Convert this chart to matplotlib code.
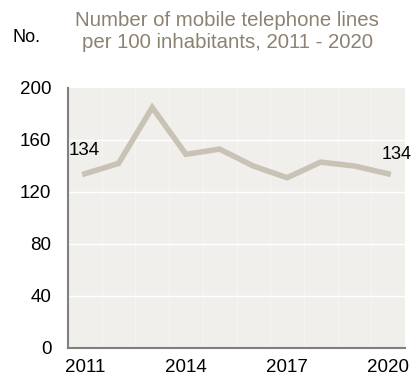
import matplotlib.pyplot as plt
import numpy as np

plt.rcParams['font.family'] = ['Liberation Sans', 'DejaVu Sans']

# データ
years = [2011, 2012, 2013, 2014, 2015, 2016, 2017, 2018, 2019, 2020]
lines_per_100 = [134, 142, 185, 149, 153, 140, 131, 143, 140, 134]
tick_years = [2011, 2014, 2017, 2020]
y_ticks = [0, 40, 80, 120, 160, 200]
title = 'Number of mobile telephone lines\nper 100 inhabitants, 2011 - 2020'

fig = plt.figure(figsize=(4.12, 3.78), dpi=100)
ax = fig.add_axes([68 / 412, 1 - 348 / 378, 337 / 412, 260 / 378])

ax.set_facecolor('#f0efeb')
ax.plot(years, lines_per_100, color='#c9c3b5', linewidth=4, solid_joinstyle='miter', zorder=3)

# 年の境目に薄い縦線
for b in np.arange(years[0] - 0.5, years[-1] + 1, 1):
    ax.axvline(b, color='#f6f5f2', linewidth=0.8, zorder=1)
for t in y_ticks[1:-1]:
    ax.axhline(t, color='white', linewidth=1, zorder=2)

ax.set_xlim(years[0] - 0.5, years[-1] + 0.5)
ax.set_ylim(0, 200)
ax.set_xticks(tick_years)
ax.set_yticks(y_ticks)
ax.tick_params(length=0, labelsize=13.5, colors='black')
ax.tick_params(axis='y', pad=12)
ax.tick_params(axis='x', pad=8)

for s in ['top', 'right']:
    ax.spines[s].set_visible(False)
for s in ['left', 'bottom']:
    ax.spines[s].set_color('#808080')
    ax.spines[s].set_linewidth(1.5)

ax.annotate(str(lines_per_100[0]), (years[0], lines_per_100[0]), xytext=(-12, 17),
            textcoords='offset points', ha='left', va='center', fontsize=13.5)
ax.annotate(str(lines_per_100[-1]), (years[-1], lines_per_100[-1]), xytext=(-5, 14),
            textcoords='offset points', ha='left', va='center', fontsize=13)

fig.text(227 / 412, 1 - 32 / 378, title, ha='center', va='center', fontsize=14.7,
         color='#8c8270', linespacing=1.2)
fig.text(12 / 412, 1 - 38 / 378, 'No.', ha='left', va='center', fontsize=13, color='black')

plt.savefig('out.png', dpi=100)
